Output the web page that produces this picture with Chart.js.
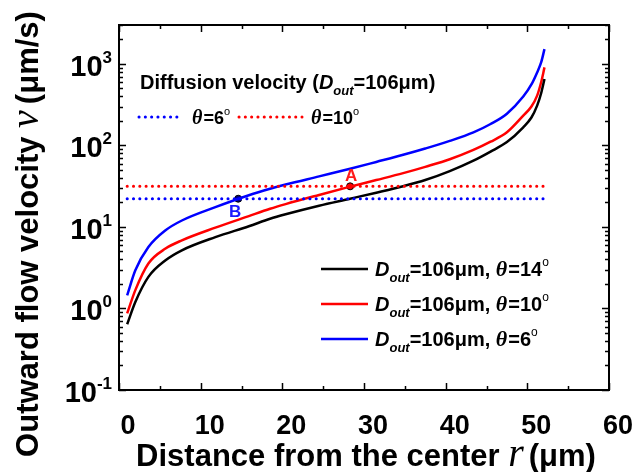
<!DOCTYPE html>
<html>
<head>
<meta charset="utf-8">
<script src="https://cdn.jsdelivr.net/npm/chart.js@4"></script>
<style>
html,body{margin:0;padding:0;background:#fff;}
canvas{display:block;}
</style>
</head>
<body>
<canvas id="c" width="641" height="472"></canvas>
<script>
// ---- data ----
const rValues  = [1.0, 2.0, 3.6, 5.7, 7.7, 11.8, 15.9, 18.5, 20.4, 24.5, 28.3, 31.5, 34.8, 37.5, 40.5, 43.4, 45.5, 47.5, 49.5, 50.5, 51.2, 51.7, 52.1];
const vTheta6  = [1.45, 2.94, 5.67, 9.1, 12.0, 17.5, 24.5, 29.4, 33.1, 41.7, 51.7, 62.7, 76.7, 91.6, 113.5, 144.5, 183, 245, 398, 560, 787, 1050, 1520];
const vTheta10 = [0.87, 1.68, 3.56, 5.43, 6.85, 9.8, 13.6, 16.7, 19.05, 24.7, 31.2, 37.6, 45.7, 54.6, 67.6, 88, 111, 145, 232, 300, 408, 600, 906];
const vTheta14 = [0.64, 1.2, 2.44, 3.9, 5.17, 7.5, 10.2, 12.6, 14.3, 18.2, 22.2, 26.3, 31.6, 37.6, 48.4, 65, 84, 110, 167, 220, 308, 440, 653];
const diffusionRange = [1.0, 52.2];
const diffusionTheta6 = 22.2;
const diffusionTheta10 = 31.5;
const pointA = {x: 28.3, y: 31.5};
const pointB = {x: 14.6, y: 22.2};
const xTickValues = [0, 10, 20, 30, 40, 50, 60];
const xTickLabels = ['0', '10', '20', '30', '40', '50', '60'];
const xMinorValues = [5, 15, 25, 35, 45, 55];
const yDecadeValues = [0.1, 1, 10, 100, 1000];
const yDecadeExponents = ['-1', '0', '1', '2', '3'];
const curveLabels = ['14', '10', '6'];

const SANS = '"Liberation Sans", Arial, sans-serif';
const SERIF = '"Liberation Serif", "Times New Roman", serif';

function toXY(xs, ys){ return xs.map((x,i)=>({x:x, y:ys[i]})); }

function drawRuns(ctx, x, y, runs, align){
  let total = 0;
  runs.forEach(r=>{ ctx.font = r.font; r.w = ctx.measureText(r.text).width; total += r.w + (r.gap||0); });
  let cx = align==='center' ? x - total/2 : (align==='right' ? x - total : x);
  runs.forEach(r=>{
    ctx.font = r.font;
    ctx.fillStyle = r.color || '#000';
    ctx.textAlign = 'left';
    ctx.textBaseline = 'alphabetic';
    ctx.fillText(r.text, cx, y + (r.dy||0));
    cx += r.w + (r.gap||0);
  });
}

const decor = {
  id: 'decor',
  afterDraw(chart){
    const ctx = chart.ctx;
    const xs = chart.scales.x, ys = chart.scales.y;
    const a = chart.chartArea;
    ctx.save();
    ctx.strokeStyle = '#000';
    ctx.lineWidth = 2;
    ctx.strokeRect(a.left, a.top, a.right - a.left, a.bottom - a.top);
    ctx.lineWidth = 1.5;
    const xt = (v, len)=>{
      const p = Math.round(xs.getPixelForValue(v)) + 0.5;
      ctx.beginPath();
      ctx.moveTo(p, a.bottom); ctx.lineTo(p, a.bottom - len);
      ctx.moveTo(p, a.top); ctx.lineTo(p, a.top + len);
      ctx.stroke();
    };
    xTickValues.forEach(v=>xt(v, 7));
    xMinorValues.forEach(v=>xt(v, 4));
    const yt = (v, len)=>{
      const p = Math.round(ys.getPixelForValue(v)) + 0.5;
      ctx.beginPath();
      ctx.moveTo(a.left, p); ctx.lineTo(a.left + len, p);
      ctx.moveTo(a.right, p); ctx.lineTo(a.right - len, p);
      ctx.stroke();
    };
    yDecadeValues.forEach(v=>{
      yt(v, 7);
      for (let k=2;k<=9;k++){ const mv = v*k; if (mv <= ys.max) yt(mv, 4); }
    });
    // x tick labels
    ctx.fillStyle = '#000';
    ctx.font = 'bold 27px ' + SANS;
    ctx.textAlign = 'center';
    ctx.textBaseline = 'middle';
    xTickValues.forEach((v,i)=>{
      ctx.fillText(xTickLabels[i], xs.getPixelForValue(v) + 9, 427);
    });
    // y tick labels 10^n
    yDecadeValues.forEach((v,i)=>{
      const p = ys.getPixelForValue(v);
      drawRuns(ctx, 112, p + 12, [
        {text:'10', font:'bold 29px ' + SANS},
        {text:yDecadeExponents[i], font:'bold 17px ' + SANS, dy:-13}
      ], 'right');
    });
    // x title
    drawRuns(ctx, 366, 466, [
      {text:'Distance from the center ', font:'bold 31px ' + SANS},
      {text:'r', font:'italic 40px ' + SERIF, gap:5},
      {text:'(\u03bcm)', font:'bold 31px ' + SANS}
    ], 'center');
    // y title
    ctx.save();
    ctx.translate(38, 234);
    ctx.rotate(-Math.PI/2);
    drawRuns(ctx, 0, 0, [
      {text:'Outward flow velocity ', font:'bold 31px ' + SANS},
      {text:'v', font:'italic 40px ' + SERIF, gap:6},
      {text:'(\u03bcm/s)', font:'bold 31px ' + SANS}
    ], 'center');
    ctx.restore();
    // point labels
    ctx.font = 'bold 17px ' + SANS;
    ctx.textAlign = 'center';
    ctx.textBaseline = 'middle';
    ctx.fillStyle = '#ff1a1a';
    ctx.fillText('A', xs.getPixelForValue(pointA.x) + 1, ys.getPixelForValue(pointA.y) - 10);
    ctx.fillStyle = '#1a1aff';
    ctx.fillText('B', xs.getPixelForValue(pointB.x) - 3, ys.getPixelForValue(pointB.y) + 14);

    // top legend
    drawRuns(ctx, 140, 89, [
      {text:'Diffusion velocity (', font:'bold 20px ' + SANS},
      {text:'D', font:'bold italic 20px ' + SANS},
      {text:'out', font:'bold italic 13px ' + SANS, dy:6},
      {text:'=106\u03bcm)', font:'bold 20px ' + SANS}
    ], 'left');
    const dotted = (x1, x2, y, col)=>{
      ctx.save();
      ctx.strokeStyle = col; ctx.lineWidth = 3; ctx.lineCap = 'round';
      ctx.setLineDash([0.1, 6.2]);
      ctx.beginPath(); ctx.moveTo(x1, y); ctx.lineTo(x2, y); ctx.stroke();
      ctx.restore();
    };
    dotted(139, 183, 117, '#0000ff');
    dotted(239, 302, 117, '#ff0000');
    const thetaRuns = (val, s)=>[
      {text:'\u03b8', font:'bold italic ' + (s+2) + 'px ' + SERIF, gap:1},
      {text:'=' + val, font:'bold ' + s + 'px ' + SANS},
      {text:'o', font:Math.round(s*0.62) + 'px ' + SANS, dy:-Math.round(s*0.5)}
    ];
    drawRuns(ctx, 192, 124, thetaRuns('6', 18), 'left');
    drawRuns(ctx, 311, 124, thetaRuns('10', 18), 'left');

    // bottom legend
    const legCols = ['#000000', '#ff0000', '#0000ff'];
    const legY = [269, 304, 339];
    curveLabels.forEach((lab, i)=>{
      ctx.save();
      ctx.strokeStyle = legCols[i]; ctx.lineWidth = 2.5;
      ctx.beginPath(); ctx.moveTo(321, legY[i]); ctx.lineTo(368, legY[i]); ctx.stroke();
      ctx.restore();
      drawRuns(ctx, 375, legY[i] + 7, [
        {text:'D', font:'bold italic 20px ' + SANS},
        {text:'out', font:'bold italic 13px ' + SANS, dy:6},
        {text:'=106\u03bcm, ', font:'bold 20px ' + SANS},
      ].concat(thetaRuns(lab, 20)), 'left');
    });
    ctx.restore();
  }
};

const curveStyle = {showLine:true, pointRadius:0, borderWidth:2.5, cubicInterpolationMode:'monotone', fill:false};
const dotStyle = {showLine:true, pointRadius:0, borderWidth:3, borderDash:[0.1, 6.2], borderCapStyle:'round', fill:false};

new Chart(document.getElementById('c'), {
  type: 'scatter',
  data: {
    datasets: [
      Object.assign({label:'Diffusion \u03b8=6\u00b0', data: diffusionRange.map(x=>({x:x, y:diffusionTheta6})), borderColor:'#0000ff'}, dotStyle),
      Object.assign({label:'Diffusion \u03b8=10\u00b0', data: diffusionRange.map(x=>({x:x, y:diffusionTheta10})), borderColor:'#ff0000'}, dotStyle),
      Object.assign({label:'D_out=106\u03bcm, \u03b8=14\u00b0', data: toXY(rValues, vTheta14), borderColor:'#000000'}, curveStyle),
      Object.assign({label:'D_out=106\u03bcm, \u03b8=10\u00b0', data: toXY(rValues, vTheta10), borderColor:'#ff0000'}, curveStyle),
      Object.assign({label:'D_out=106\u03bcm, \u03b8=6\u00b0', data: toXY(rValues, vTheta6), borderColor:'#0000ff'}, curveStyle),
      {label:'A', data:[pointA], pointRadius:3.5, pointBackgroundColor:'#ff0000', pointBorderColor:'#000', pointBorderWidth:1, showLine:false},
      {label:'B', data:[pointB], pointRadius:3.5, pointBackgroundColor:'#000080', pointBorderColor:'#000', pointBorderWidth:1, showLine:false}
    ]
  },
  options: {
    responsive:false,
    animation:false,
    layout:{padding:{left:119, top:25, right:32, bottom:82}},
    plugins:{legend:{display:false}, tooltip:{enabled:false}},
    scales:{
      x:{type:'linear', min:0, max:60, display:false},
      y:{type:'logarithmic', min:0.1, max:3000, display:false}
    }
  },
  plugins:[decor]
});
</script>
</body>
</html>
